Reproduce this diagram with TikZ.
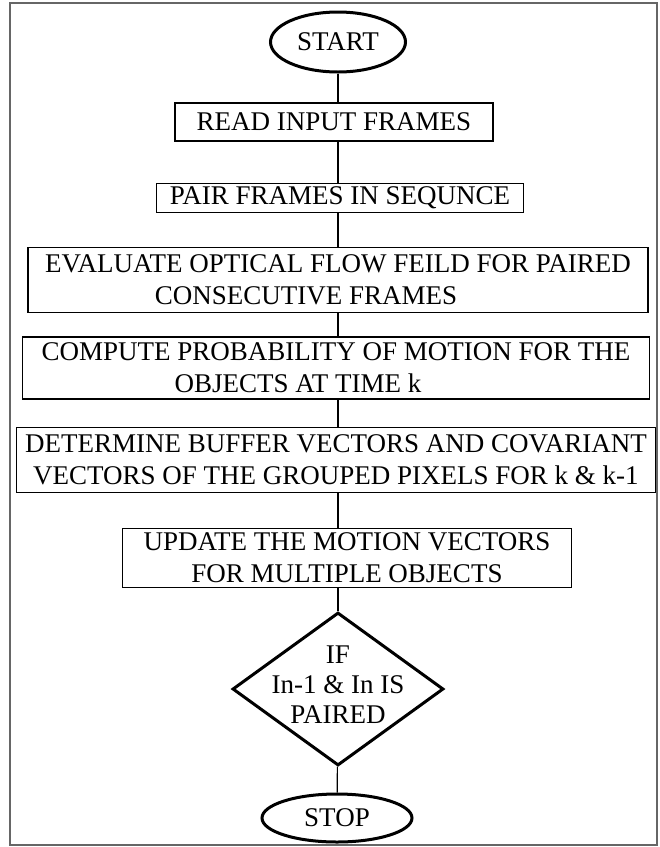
\documentclass[tikz,border=0pt]{standalone}
\usepackage{fontspec}
\setmainfont{Liberation Serif}
\usepackage{tikz}
\usetikzlibrary{shapes.geometric, positioning}

\tikzset{
    process/.style={draw, rectangle, line width=1.6pt, inner sep=2pt, align=center},
    terminal/.style={draw, ellipse, line width=3pt, inner sep=0pt},
    decision/.style={draw, diamond, line width=3pt, inner sep=0pt},
    link/.style={line width=1.2pt}
}

\begin{document}
\begin{tikzpicture}[x=1pt, y=-1pt, font=\fontsize{27}{32}\selectfont]
                        \useasboundingbox (0,0) rectangle (660,847);
                        \draw[black!60, line width=1.2pt] (10,3) rectangle (657,845);
                        \node[terminal, minimum width=135, minimum height=60] (start) at (338, 42) {START};
                        \node[process, minimum width=318, minimum height=38] (read) at (334, 122) {READ INPUT FRAMES};
                        \node[process, minimum width=367, minimum height=29] (pair) at (340, 198) {PAIR FRAMES IN SEQUNCE};
                        \node[process, minimum width=620, minimum height=65] (eval) at (338, 280) {EVALUATE OPTICAL FLOW FEILD FOR PAIRED\\CONSECUTIVE FRAMES\hspace*{64pt}};
                        \node[process, minimum width=627, minimum height=62] (comp) at (336, 368) {COMPUTE PROBABILITY OF MOTION FOR THE\\OBJECTS AT TIME k\hspace*{76pt}};
                        \node[process, minimum width=639, minimum height=65] (det) at (336, 460) {DETERMINE BUFFER VECTORS AND COVARIANT\\VECTORS OF THE GROUPED PIXELS FOR k \& k-1};
                        \node[process, minimum width=449, minimum height=59] (upd) at (347, 558) {UPDATE THE MOTION VECTORS\\FOR MULTIPLE OBJECTS};
                        \node[decision, minimum width=211, minimum height=153] (cond) at (338, 689) {};
                        \node[align=center, inner sep=0pt, font=\fontsize{27}{30}\selectfont] (condtext) at (338, 685) {IF\\In-1 \& In IS\\PAIRED};
                        \node[terminal, minimum width=150, minimum height=48] (stop) at (337, 818) {STOP};
                        \draw[link] (start) -- (start |- read.north);
                        \draw[link] (read.south -| start) -- (pair.north -| start);
                        \draw[link] (pair.south -| start) -- (eval.north -| start);
                        \draw[link] (eval.south -| start) -- (comp.north -| start);
                        \draw[link] (comp.south -| start) -- (det.north -| start);
                        \draw[link] (det.south -| start) -- (upd.north -| start);
                        \draw[link] (upd.south -| cond) -- (cond);
                        \draw[link] (cond) -- (stop);
                    \end{tikzpicture}
\end{document}
